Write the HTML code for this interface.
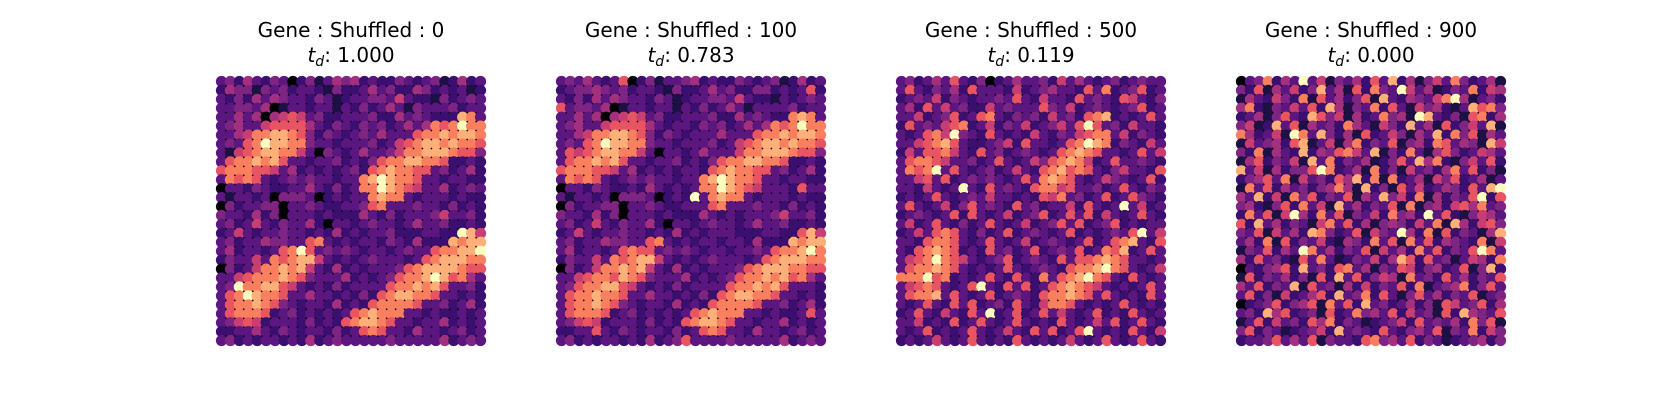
<!DOCTYPE html>
<html><head><meta charset="utf-8"><style>
html,body{margin:0;padding:0;background:#fff;}
svg{display:block;}
text{font-family:"DejaVu Sans","Liberation Sans",sans-serif;fill:#000;}
</style></head><body>
<svg id="chart" width="1680" height="420" viewBox="0 0 1680 420" xmlns="http://www.w3.org/2000/svg"></svg>
<script>
const panelTitles = ["Gene : Shuffled : 0","Gene : Shuffled : 100","Gene : Shuffled : 500","Gene : Shuffled : 900"];
const tdValues = ["1.000","0.783","0.119","0.000"];
const grid0 = [
"342532430241354523224323412523","254414342332142235342254232312","324253543324312334436322142343","334435013323313242353143334233","335350567634223334225343222983",
"345336777753243243423535878a88","335688998742432343533378898998","34378a998843323334236789989887","316789988630432353346889998774","378898973323342324788998872232",
"788877635232323427898877342352","387873234343323389a98873323322","033243223353242388a98763352343","313323044430232338988323332322","042334403343223347833343324232",
"433252403332322253242333463342","342363243352033234332353342232","236323343323252323342223322a96","342335443378323233243252229899","352332378a7343432332343378899a",
"243363878996323234333237899988","042368898963252323334789999877","336788898743335232347889a97853","34a889976323242333378898973342","378a98873353323242789988733232",
"378898743233252327888873342352","378887234232323789888332322323","346762333242327899873323352323","223353243233242378733253323423","342323323252343333343333352343"];
const grid1 = [
"343532370241334523224323412523","234454342332142235342244232372","324253543324312334436322132343","734435013323313242353133334233","335350567634223334225343228983",
"345336777753233243423535878a88","335688998742432333533378898998","34378a998843323334236789989887","376789988630332353336889998774","378898973323342324788998872232",
"788877635232323327898877342352","387873234343323389a98873323322","033243223253232388a98763332733","313323044430232a38988323332322","042334403343223337833343324232",
"433252403332322253232333463342","342363243352033234332353342232","236323343323252323332223322796","342335443378323233233252229899","3523323787734343233233437889a8",
"243363878996323234333237899988","042368898963252323334789998877","336788798743335232347889897853","347889976323242333378898973332","378898873353323242789988733232",
"378898743233252327888873342352","378887234232323789888332322373","346762333242327899873323352323","223373243233242378733253323423","342323323252347333343333352343"];
const grid2 = [
"342353732402353342635323423433","373243527333262345332738234723","234362432334373263327343276324","352736342263433374362343234723","336234723783243426342789232373",
"273436782362436234637a73426332","323786a43273232632436788362432","336789732234627332378a98243263","263778632734234323789873323736","378876334237323647898623733432",
"3878a3732342363278978732463327","336737234343237389873236432372","3326323a3273432788673342373243","232373234363323276834237237432","3732362473432734233627323a3623",
"234323727323623472373726323732","362373242373236234737234723233","236378732423723432372323437a36","332788732373236234323723789327","327898723273423723437238792373",
"3678a8763234723432737789873323","37889873232373234327889a873236","888a78232373273283789a87327323","367873237a32737237898763232373","378893732372343278898737323273",
"323732737234273268873232373232","2373263273a2372373632372327323","336232723732373232732363723732","323723237323632737237a32327326","232363237323273232363237323732"];
const grid3 = [
"0348253a3614352739251463842351","427153624935172843a63512438265","153264281735247193254368a51342","582143637295143827316452139784",
"23514732974615238451a932417825","461293715342853164293517246391","852361a83942517236415392847153","163452791361582437145287354196",
"428153292547863914283157423653","157243619382435124739582146372","936152447a82351824163425837241","245738163427592818235164723513",
"18372534245851924173623542739a","539261847243715394628152437a27","452147283619352437181452675834","283716a52837143628452a37214653",
"729352431683725145426381952674","437163529842371643a52817243159","352817243621542837183725432816","1437253a8352437163528372437a83",
"527342173831243625972734136528","032457293427835143762452371492","172435241729372465183427352437","537243917341526243728134582473",
"372416235729348273147352437134","023472457183729342352417634725","342957234172384537263417295437","137263427582431234627343528471",
"472431234629343273245371438264","233473537143327845372431234524"];
const allGrids = [grid0, grid1, grid2, grid3];
const palette = ["#000004","#1c1044","#3b0f70","#5c167f","#7e2482","#a3307e","#c83e73","#e95462","#fa7f5e","#feb078","#fcfdbf"];

const NS = "http://www.w3.org/2000/svg";
const svg = document.getElementById("chart");
const N = 30;
const panelX0 = 217, panelStep = 340, panelY0 = 77, panelSize = 268;
const pitch = panelSize / N;
const r = 5.6;
function xScale(p, c){ return panelX0 + p*panelStep + pitch/2 + c*pitch; }
function yScale(row){ return panelY0 + pitch/2 + row*pitch; }
function level(ch){ const v = parseInt(ch, 16); return isNaN(v) ? 3 : Math.min(v, 10); }

allGrids.forEach(function(grid, p){
  const g = document.createElementNS(NS, "g");
  
  
  svg.appendChild(g);
  const cx = panelX0 + p*panelStep + panelSize/2;
  const t1 = document.createElementNS(NS, "text");
  
  
  t1.setAttribute("x", cx); t1.setAttribute("y", 37);
  t1.setAttribute("text-anchor", "middle"); t1.setAttribute("font-size", "20");
  t1.textContent = panelTitles[p];
  g.appendChild(t1);
  const t2 = document.createElementNS(NS, "text");
  
  
  t2.setAttribute("x", cx); t2.setAttribute("y", 62);
  t2.setAttribute("text-anchor", "middle"); t2.setAttribute("font-size", "20");
  t2.innerHTML = '<tspan font-style="italic">t</tspan><tspan font-style="italic" font-size="14" dy="4">d</tspan><tspan dy="-4">: ' + tdValues[p] + '</tspan>';
  g.appendChild(t2);
  const bg = document.createElementNS(NS, "rect");
  
  
  bg.setAttribute("x", xScale(p, 0)); bg.setAttribute("y", yScale(0));
  bg.setAttribute("width", xScale(p, N-1) - xScale(p, 0));
  bg.setAttribute("height", yScale(N-1) - yScale(0));
  bg.setAttribute("fill", "#000004");
  g.appendChild(bg);
  for (let row = 0; row < N; row++){
    const s = grid[row] || "";
    for (let c = 0; c < N; c++){
      const dot = document.createElementNS(NS, "circle");
      
      
      dot.setAttribute("cx", xScale(p, c).toFixed(2));
      dot.setAttribute("cy", yScale(row).toFixed(2));
      dot.setAttribute("r", r);
      dot.setAttribute("fill", palette[level(s[c] || "3")]);
      g.appendChild(dot);
    }
  }
});
</script>
</body></html>
